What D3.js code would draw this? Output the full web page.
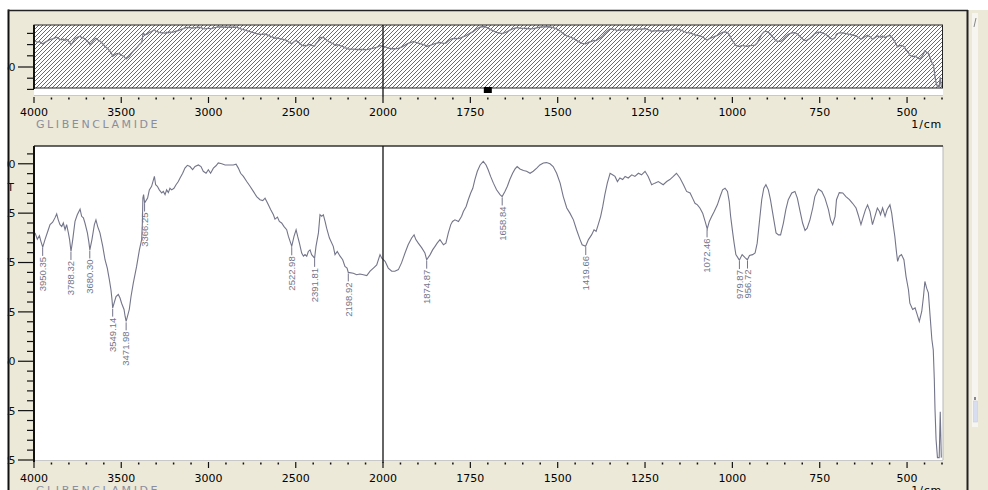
<!DOCTYPE html>
<html>
<head>
<meta charset="utf-8">
<script src="https://cdn.jsdelivr.net/npm/d3@7"></script>
<style>
  body { margin: 0; background: #fff; }
  svg { display: block; }
</style>
</head>
<body>
<div id="chart"></div>
<script>
// spectrum: wavenumber (1/cm) and %T
var wavenumber = [
  3994,3981,3969,3960,3950,3937,3918,3908,3893,3880,
  3870,3861,3851,3841,3832,3822,3813,3803,3796,3788,
  3778,3765,3752,3736,3727,3717,3708,3694,3686,3680,
  3668,3654,3645,3635,3622,3606,3593,3580,3568,3559,
  3553,3549,3530,3517,3507,3498,3484,3478,3472,3454,
  3444,3431,3412,3396,3383,3379,3376,3372,3366,3349,
  3339,3326,3310,3303,3293,3282,3268,3259,3249,3240,
  3230,3221,3211,3198,3186,3173,3163,3148,3135,3121,
  3106,3091,3077,3058,3043,3030,3014,3001,2988,2972,
  2957,2944,2924,2905,2877,2858,2842,2829,2816,2800,
  2781,2762,2743,2724,2705,2689,2676,2667,2657,2644,
  2628,2619,2605,2594,2581,2567,2552,2542,2529,2523,
  2510,2498,2489,2479,2466,2456,2447,2437,2428,2418,
  2409,2392,2384,2370,2361,2351,2342,2332,2323,2307,
  2285,2275,2262,2246,2231,2218,2206,2199,2170,2151,
  2132,2113,2093,2074,2055,2036,2017,2007,1994,1985,
  1975,1966,1956,1947,1937,1928,1918,1911,1906,1899,
  1889,1880,1875,1865,1858,1851,1845,1837,1827,1820,
  1813,1806,1801,1794,1784,1775,1770,1762,1756,1749,
  1743,1737,1730,1722,1713,1705,1699,1692,1684,1675,
  1665,1659,1651,1644,1637,1629,1622,1616,1608,1598,
  1589,1579,1570,1560,1551,1541,1532,1522,1513,1503,
  1493,1484,1474,1465,1455,1446,1436,1430,1420,1412,
  1403,1396,1390,1384,1377,1371,1365,1358,1350,1343,
  1336,1329,1322,1314,1307,1298,1288,1279,1269,1260,
  1250,1241,1231,1222,1212,1198,1188,1179,1169,1160,
  1150,1140,1131,1121,1114,1107,1100,1093,1085,1078,
  1072,1066,1059,1052,1043,1035,1028,1021,1014,1009,
  1005,999,995,990,980,972,963,957,951,942,
  935,929,923,916,910,904,897,891,883,875,
  868,862,854,847,840,830,821,814,806,799,
  792,786,778,770,764,754,744,735,725,719,
  713,706,702,694,684,675,665,656,646,640,
  632,625,619,613,606,599,592,585,579,576,
  570,563,557,549,544,539,535,530,527,522,
  516,509,503,496,492,484,477,471,465,458,
  453,449,444,439,434,429,425,422,420,417,
  413,408,405,402
];
var transmittance = [
  82.5,80.9,81.8,80.3,78.9,80.8,83.3,84.6,85.2,86.3,
  87.3,85.8,84.6,84.1,85.0,83.3,84.6,82.5,80.8,77.8,
  80.8,85.4,87.1,88.5,86.7,86.3,85.0,82.5,80.3,78.2,
  80.8,84.6,85.8,84.1,82.5,79.1,75.7,73.6,70.6,68.1,
  65.6,63.5,66.4,66.9,66.0,64.7,63.1,61.4,60.1,63.1,
  66.4,69.8,74.0,78.2,80.8,85.0,91.3,92.2,90.1,91.3,
  93.4,94.3,96.8,94.7,94.3,93.4,92.6,93.0,92.2,93.4,
  92.7,93.8,93.4,93.8,94.7,95.5,96.4,97.6,98.9,99.6,
  99.3,98.5,99.3,99.7,99.3,98.1,97.6,98.5,97.6,98.9,
  99.5,100.2,100.0,99.7,99.7,99.7,99.9,98.9,97.6,96.8,
  95.5,94.3,93.0,91.7,90.9,90.7,91.3,90.5,89.6,88.4,
  87.1,86.0,86.5,85.4,85.0,84.1,83.3,81.6,79.9,79.1,
  81.6,83.3,81.6,79.9,77.4,76.6,77.0,76.6,77.8,78.2,
  77.0,76.1,79.1,82.5,87.1,86.7,87.1,85.4,83.7,81.2,
  79.1,77.0,77.8,76.6,75.7,74.0,73.6,72.5,72.3,71.9,
  72.1,71.9,71.7,72.8,73.6,74.4,77.0,76.1,75.3,73.6,
  72.8,72.8,73.2,74.9,77.4,79.5,81.2,82.0,80.8,79.9,
  78.7,77.4,75.7,77.0,78.2,79.1,79.9,80.8,79.5,79.9,
  82.5,84.6,85.4,85.8,85.4,86.7,87.9,89.2,90.9,92.6,
  93.8,96.0,98.1,99.7,100.6,99.7,98.5,96.8,95.1,93.4,
  92.2,91.7,93.0,94.3,96.0,97.6,98.7,99.3,98.7,98.3,
  98.1,97.6,98.1,98.9,99.7,100.2,100.3,100.0,99.3,97.6,
  95.1,91.7,88.8,87.5,85.8,83.3,80.8,79.5,79.1,80.8,
  82.0,83.3,82.9,84.6,86.7,89.2,92.2,95.1,97.6,97.2,
  96.8,95.5,96.4,96.0,96.8,96.4,97.2,96.8,97.6,97.2,
  98.1,96.8,94.7,95.1,95.5,94.7,95.5,96.0,96.8,97.6,
  96.4,94.7,93.0,92.6,91.3,90.0,89.6,88.8,87.5,85.4,
  83.5,85.4,86.7,87.9,89.6,91.7,93.4,93.8,93.0,90.5,
  86.7,82.5,79.9,77.0,75.6,77.0,76.2,75.7,76.8,77.0,
  77.4,79.9,85.0,90.9,93.8,94.7,93.4,90.9,86.7,82.5,
  82.0,82.0,85.0,88.4,90.9,92.6,93.0,91.3,87.9,85.0,
  83.1,83.7,85.8,88.8,91.7,93.6,93.0,91.3,88.4,85.8,
  84.6,86.7,90.9,92.7,92.6,91.7,90.9,90.0,88.8,87.1,
  84.6,86.7,88.4,89.6,87.9,84.6,86.7,88.8,87.9,87.1,
  88.8,86.7,88.4,89.6,87.5,84.1,81.6,77.4,75.3,76.6,
  77.0,75.7,71.5,68.1,64.7,63.1,63.5,61.8,60.1,62.6,
  66.4,70.2,68.5,67.3,61.4,55.5,52.9,45.3,37.8,30.2,
  25.6,25.6,37.2,25.6
];
var peakLabels = ["3950.35","3788.32","3680.30","3549.14","3471.98","3366.25",
  "2522.98","2391.81","2198.92","1874.87","1658.84","1419.66","1072.46","979.87","956.72"];

var xMajorTicks = [4000,3500,3000,2500,2000,1750,1500,1250,1000,750,500];
var xMinorTicks = d3.range(4000, 2000, -100).concat(d3.range(2000, 399, -50))
  .filter(function(v) { return xMajorTicks.indexOf(v) < 0; });
var yMajorTicks = [100,87.5,75,62.5,50,37.5,25];
var yMinorTicks = d3.range(25, 105, 2.5);
var overviewTicks = [92,78,64,50,36,22];
var overviewMajor = [50];
var cursorWn = 1700;
var sampleName = "GLIBENCLAMIDE", unitLabel = "1/cm", yTitle = "%T";

var data = wavenumber.map(function(w, i) { return {wn: w, t: transmittance[i]}; });

var W = 988, H = 490;
var beige = "#ECE9D8", lineCol = "#73758a", font = "DejaVu Sans, Verdana, sans-serif";

var svg = d3.select("#chart").append("svg").attr("width", W).attr("height", H);
var defs = svg.append("defs");
defs.append("pattern").attr("id", "hatch").attr("patternUnits", "userSpaceOnUse")
    .attr("width", 4).attr("height", 4)
  .append("path").attr("d", "M-1,1 l2,-2 M0,4 l4,-4 M3,5 l2,-2")
    .attr("stroke", "#3a3a3a").attr("stroke-width", 0.75);
defs.append("clipPath").attr("id", "clipMain").append("rect")
    .attr("x", 34).attr("y", 146).attr("width", 909).attr("height", 315);
defs.append("clipPath").attr("id", "clipTop").append("rect")
    .attr("x", 34).attr("y", 25).attr("width", 909).attr("height", 70);

// x scale: 4000-2000 at half the scale of 2000-400
var x = d3.scaleLinear().domain([4000, 2000, 400]).range([34, 383, 942]);
var y = d3.scaleLinear().domain([25, 104.5]).range([460, 146]);
var yTop = d3.scaleLinear().domain([50, 100]).range([67, 27]);

svg.append("rect").attr("width", W).attr("height", H).attr("fill", "#fff");
svg.append("rect").attr("x", 8).attr("y", 10).attr("width", W - 8).attr("height", H - 10).attr("fill", beige);

// side strip on the right
svg.append("rect").attr("x", 972).attr("y", 13).attr("width", 6).attr("height", 414).attr("fill", "#f6f5f0");
svg.append("line").attr("x1", 974).attr("y1", 27).attr("x2", 976).attr("y2", 18).attr("stroke", "#888").attr("stroke-width", 1);
svg.append("rect").attr("x", 974).attr("y", 397).attr("width", 2).attr("height", 3).attr("fill", "#888");
svg.append("rect").attr("x", 973.5).attr("y", 401).attr("width", 4).attr("height", 21)
    .attr("fill", "#d9ddf0").attr("stroke", "#c8cce0").attr("stroke-width", 0.6);

// ---------- overview panel ----------
svg.append("rect").attr("x", 34).attr("y", 25).attr("width", 909).attr("height", 70).attr("fill", "#fff");
svg.append("line").attr("x1", 34).attr("x2", 943).attr("y1", 95.5).attr("y2", 95.5).attr("stroke", "#c8c8c8");
svg.append("rect").attr("x", 34).attr("y", 25).attr("width", 908.5).attr("height", 63)
    .attr("fill", "url(#hatch)").attr("stroke", "#222").attr("stroke-width", 1);

var lineTop = d3.line().x(function(d) { return x(d.wn); }).y(function(d) { return yTop(d.t); });
svg.append("path").datum(data).attr("clip-path", "url(#clipTop)")
    .attr("d", lineTop).attr("fill", "none").attr("stroke", "#7c7c88").attr("stroke-width", 1.3);

svg.append("line").attr("x1", x(2000)).attr("x2", x(2000)).attr("y1", 25).attr("y2", 97)
    .attr("stroke", "#111").attr("stroke-width", 1.3);
svg.append("rect").attr("x", x(cursorWn) - 4).attr("y", 87).attr("width", 8).attr("height", 6).attr("fill", "#000");

// ---------- main panel ----------
svg.append("rect").attr("x", 34).attr("y", 146).attr("width", 909).attr("height", 314).attr("fill", "#fff");
svg.append("line").attr("x1", 943).attr("x2", 943).attr("y1", 146).attr("y2", 460).attr("stroke", "#b8b8b8");
svg.append("line").attr("x1", 34).attr("x2", 943).attr("y1", 460.5).attr("y2", 460.5).attr("stroke", "#c8c8c8");
svg.append("line").attr("x1", 34).attr("x2", 943).attr("y1", 146).attr("y2", 146).attr("stroke", "#333").attr("stroke-width", 1.5);

var lineMain = d3.line().x(function(d) { return x(d.wn); }).y(function(d) { return y(d.t); });
svg.append("path").datum(data).attr("clip-path", "url(#clipMain)")
    .attr("d", lineMain).attr("fill", "none").attr("stroke", lineCol).attr("stroke-width", 1.1);

svg.append("line").attr("x1", x(2000)).attr("x2", x(2000)).attr("y1", 146).attr("y2", 463)
    .attr("stroke", "#111").attr("stroke-width", 1.3);

// peak labels
var bis = d3.bisector(function(d) { return -d.wn; }).left;
function tAt(w) {
  var i = bis(data, -w);
  if (i <= 0) return data[0].t;
  if (i >= data.length) return data[data.length - 1].t;
  var a = data[i - 1], b = data[i];
  return a.t + (b.t - a.t) * (a.wn - w) / (a.wn - b.wn);
}
var pk = svg.append("g").selectAll("g").data(peakLabels).enter().append("g");
pk.append("line")
    .attr("x1", function(d) { return x(+d); }).attr("x2", function(d) { return x(+d); })
    .attr("y1", function(d) { return y(tAt(+d)) + 1; })
    .attr("y2", function(d) { return y(tAt(+d)) + 9; })
    .attr("stroke", lineCol).attr("stroke-width", 1);
pk.append("text")
    .attr("transform", function(d) { return "translate(" + x(+d) + "," + (y(tAt(+d)) + 10) + ") rotate(-90)"; })
    .attr("dy", "0.35em").attr("text-anchor", "end")
    .style("font-family", "Liberation Sans, Arial, sans-serif").style("font-size", "9.5px")
    .attr("fill", lineCol).text(function(d) { return d; });

// ---------- axes ----------
function xAxis(yTick, yLab) {
  var g = svg.append("g");
  g.selectAll(".mn").data(xMinorTicks).enter().append("rect")
      .attr("x", function(d) { return x(d) - 0.75; }).attr("y", yTick + 0.5)
      .attr("width", 1.5).attr("height", 2).attr("fill", "#111");
  g.selectAll(".mj").data(xMajorTicks).enter().append("line")
      .attr("x1", function(d) { return x(d); }).attr("x2", function(d) { return x(d); })
      .attr("y1", yTick).attr("y2", yTick + 6).attr("stroke", "#111").attr("stroke-width", 1.2);
  g.selectAll(".lb").data(xMajorTicks).enter().append("text")
      .attr("x", function(d) { return x(d); }).attr("y", yLab)
      .attr("text-anchor", "middle").style("font-family", font).style("font-size", "11px")
      .attr("fill", "#000").text(function(d) { return d; });
  g.append("text").attr("x", 36).attr("y", yLab + 12)
      .style("font-family", font).style("font-size", "11px").style("letter-spacing", "2.6px")
      .attr("fill", "#8a8d9e").text(sampleName);
  g.append("text").attr("x", 942).attr("y", yLab + 12).attr("text-anchor", "end")
      .style("font-family", font).style("font-size", "11px").style("letter-spacing", "0.8px")
      .attr("fill", "#000").text(unitLabel);
}
xAxis(97, 116);
xAxis(462, 481.5);

// overview y axis
svg.append("line").attr("x1", 34).attr("x2", 34).attr("y1", 25).attr("y2", 89).attr("stroke", "#111").attr("stroke-width", 2);
svg.append("g").selectAll("line").data(overviewTicks).enter().append("line")
    .attr("x1", function(d) { return overviewMajor.indexOf(d) >= 0 ? 18 : 27; }).attr("x2", 34)
    .attr("y1", function(d) { return yTop(d); }).attr("y2", function(d) { return yTop(d); })
    .attr("stroke", "#111").attr("stroke-width", 1.2);
svg.append("g").selectAll("text").data(overviewMajor).enter().append("text")
    .attr("x", 15.5).attr("y", function(d) { return yTop(d); }).attr("dy", "0.36em")
    .attr("text-anchor", "end").style("font-family", font).style("font-size", "11px")
    .attr("fill", "#111").text(function(d) { return d; });

// main y axis
svg.append("line").attr("x1", 34).attr("x2", 34).attr("y1", 146).attr("y2", 462).attr("stroke", "#111").attr("stroke-width", 2);
svg.append("g").selectAll("line").data(yMinorTicks).enter().append("line")
    .attr("x1", function(d) { return yMajorTicks.indexOf(d) >= 0 ? 18 : 27; }).attr("x2", 34)
    .attr("y1", function(d) { return y(d); }).attr("y2", function(d) { return y(d); })
    .attr("stroke", "#111").attr("stroke-width", 1.2);
svg.append("g").selectAll("text").data(yMajorTicks).enter().append("text")
    .attr("x", 15.5).attr("y", function(d) { return y(d); }).attr("dy", "0.36em")
    .attr("text-anchor", "end").style("font-family", font).style("font-size", "11px")
    .attr("fill", "#111").text(function(d) { return d; });
svg.append("text").attr("x", 14).attr("y", y(94)).attr("dy", "0.36em").attr("text-anchor", "end")
    .style("font-family", font).style("font-size", "11px").attr("fill", "#111").text(yTitle);

// frame: white margin, left border, top border, divider
svg.append("rect").attr("x", 0).attr("y", 0).attr("width", 7.5).attr("height", H).attr("fill", "#fff");
svg.append("line").attr("x1", 8.5).attr("x2", 8.5).attr("y1", 9.5).attr("y2", H).attr("stroke", "#111").attr("stroke-width", 2);
svg.append("line").attr("x1", 8).attr("x2", 968).attr("y1", 10.5).attr("y2", 10.5).attr("stroke", "#222").attr("stroke-width", 1.3);
svg.append("line").attr("x1", 967.5).attr("x2", 967.5).attr("y1", 10).attr("y2", H).attr("stroke", "#222").attr("stroke-width", 2);
</script>
</body>
</html>
